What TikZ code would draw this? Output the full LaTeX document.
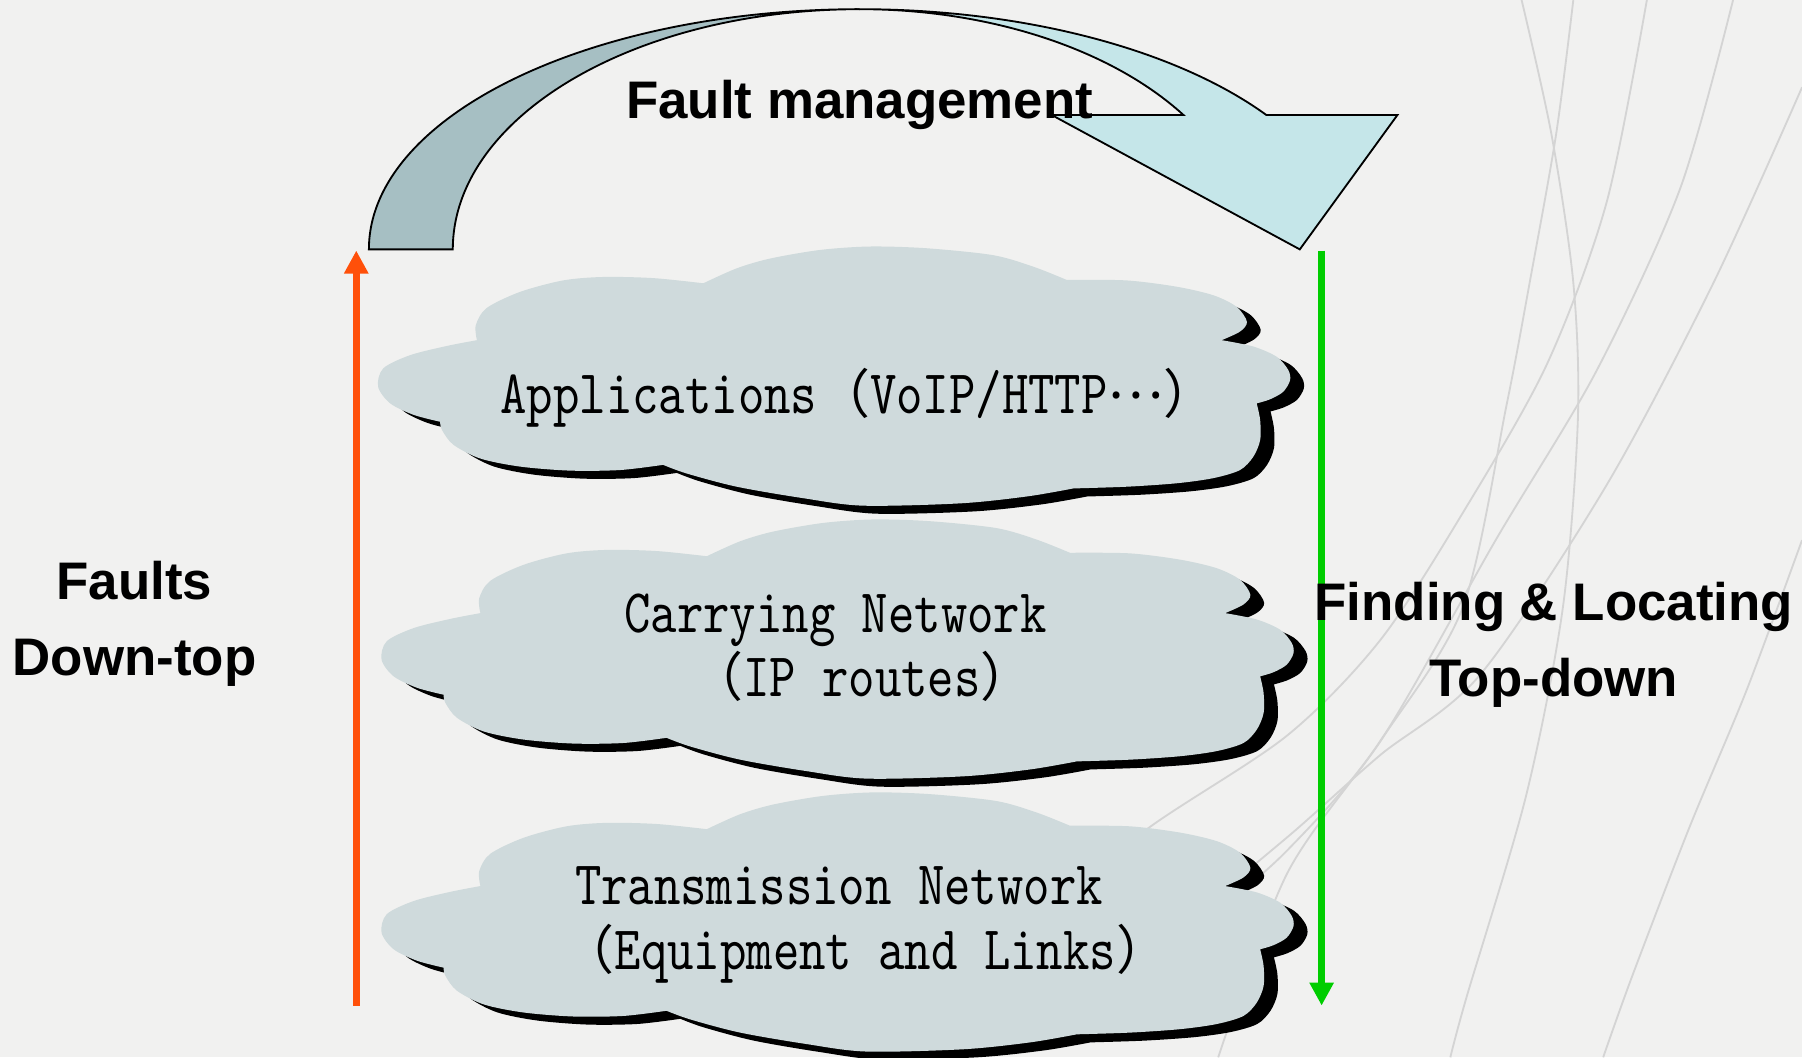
\documentclass[tikz,border=0pt]{standalone}
\usepackage{fontspec}
\setmainfont{Liberation Sans}
\newfontfamily\cloudfont{lmmono10-regular.otf}[FakeStretch=0.81]
\newfontfamily\cjkfont{Noto Sans CJK SC}
\usetikzlibrary{arrows.meta}

\definecolor{paper}{RGB}{241,241,240}
\definecolor{streak}{RGB}{212,212,212}
\definecolor{bandback}{RGB}{166,191,195}
\definecolor{bandfront}{RGB}{197,230,233}
\definecolor{cloudfill}{RGB}{207,218,220}
\definecolor{upcol}{RGB}{255,80,10}
\definecolor{downcol}{RGB}{0,205,0}

% full-width punctuation
\newcommand\fw[1]{{\cjkfont\fontsize{46}{56}\selectfont #1}}
% centred ellipsis
\newcommand\midell{\raisebox{13pt}{\fw{…}}}

% outline of one cloud, centred on the origin
\newcommand\cloudoutline{(-311,32)
  -- plot[smooth] coordinates {(-311,32) (-312,45) (-302.5,60) (-273.5,74) (-236,84) (-201,87) (-157.5,86) (-114,81.5)}
  -- plot[smooth] coordinates {(-114,81.5) (-85,94.5) (-56,103) (-12.5,110.5) (31,113.5) (80,112) (138,106) (173,96) (202,84.5)}
  -- plot[smooth] coordinates {(202,84.5) (254,84) (298,78.5) (330,71) (350,61) (359,48) (353,39.5) (337,32)}
  -- plot[smooth] coordinates {(337,32) (364.5,26.5) (385,17.5) (395,6) (396.5,-3) (390.5,-13) (379,-19.5) (367.5,-23)}
  -- plot[smooth] coordinates {(367.5,-23) (370.5,-37.5) (370.5,-55) (364.5,-69.5) (353,-81) (330,-88) (298,-92.5) (254.5,-95.5) (208,-97)}
  -- plot[smooth] coordinates {(208,-97) (167.5,-104) (109.5,-110) (25,-112) (-27,-105.5) (-85,-95.5) (-128.5,-84) (-149,-76.5)}
  -- plot[smooth] coordinates {(-149,-76.5) (-186.5,-81) (-230,-81.5) (-273.5,-78) (-308,-71) (-331.5,-59) (-341.5,-46) (-343,-39)}
  -- plot[smooth] coordinates {(-343,-39) (-366,-33) (-386.5,-23) (-397,-8.5) (-392.5,7.5) (-369,19) (-337,27) (-311,32)}
  -- cycle}

\tikzset{
  streakline/.style = {draw=streak, line width=1.6pt},
  bandline/.style   = {draw=black, line width=1.6pt, line join=miter},
  cloudpic/.pic = {
    \fill[black, shift={(12,-7)}] \cloudoutline;
    \fill[cloudfill] \cloudoutline;
  },
  cloudtext/.style  = {font=\cloudfont\fontsize{54}{56}\selectfont, inner sep=0pt},
  sidelabel/.style  = {font=\fontsize{46}{66}\selectfont\bfseries, inner sep=0pt},
  uparrow/.style    = {draw=upcol, line width=6.5pt, -{Triangle[length=20pt,width=20pt]}},
  downarrow/.style  = {draw=downcol, line width=6.5pt, -{Triangle[length=20pt,width=20pt]}},
}

\begin{document}
\begin{tikzpicture}[x=1pt,y=1pt]
\useasboundingbox (0,0) rectangle (1568,-920);
\fill[paper] (0,0) rectangle (1568,-920);

% faint streaks of the paper (they run on behind the clouds)
\draw[streakline] plot[smooth] coordinates {(1324,0) (1350,-117) (1369,-246) (1373,-364) (1360,-528) (1328,-692) (1276,-868) (1262,-920)};
\draw[streakline] plot[smooth] coordinates {(1369,0) (1354,-117) (1331,-246) (1311,-352) (1273,-528) (1201,-645) (1120,-760) (1060,-920)};
\draw[streakline] plot[smooth] coordinates {(1433,0) (1398,-176) (1346,-317) (1273,-446) (1201,-557) (1120,-640) (1000,-720) (900,-800)};
\draw[streakline] plot[smooth] coordinates {(1508,0) (1462,-164) (1389,-323) (1302,-469) (1201,-645) (1120,-740) (1050,-800) (950,-880)};
\draw[streakline] plot[smooth] coordinates {(1568,-76) (1491,-246) (1398,-422) (1288,-587) (1201,-657) (1130,-720) (1060,-780) (980,-860)};
\draw[streakline] plot[smooth] coordinates {(1568,-470) (1520,-600) (1470,-720) (1420,-850) (1395,-920)};

% curved fault-management arrow
\path[fill=bandback, bandline] (321,-217)
  arc[start angle=180, end angle=90, x radius=427, y radius=209]
  arc[start angle=90, end angle=180, x radius=354, y radius=209] -- cycle;
\path[fill=bandfront, bandline] (748,-8)
  arc[start angle=90, end angle=34.04, x radius=427, y radius=209]
  -- (1216,-100) -- (1131,-217) -- (915,-100) -- (1029.7,-100)
  arc[start angle=34.04, end angle=90, x radius=340, y radius=209] -- cycle;
\node[sidelabel, anchor=base] (fm) at (748,-103) {Fault management};

% the three layers
\pic at (726,-328) {cloudpic};
\pic at (729,-565.5) {cloudpic};
\pic at (729,-803) {cloudpic};

\node[cloudtext, anchor=base] (app) at (747,-360)
  {Applications\fw{（}VoIP/HTTP\midell\fw{）}};
\node[cloudtext, anchor=base] (carry) at (727,-550)
  {\begin{tabular}[t]{@{}c@{}}Carrying Network\\\hspace*{46pt}\fw{（}IP routes\fw{）}\end{tabular}};
\node[cloudtext, anchor=base] (trans) at (730,-787)
  {\begin{tabular}[t]{@{}c@{}}Transmission Network\\\hspace*{46pt}\fw{（}Equipment and Links\fw{）}\end{tabular}};

% direction arrows
\coordinate (upfrom) at (310,-875);
\coordinate (upto) at (310,-218);
\coordinate (downfrom) at (1150,-218);
\coordinate (downto) at (1150,-875);
\draw[uparrow] (upfrom) -- (upto);
\draw[downarrow] (downfrom) -- (downto);

\node[sidelabel, anchor=base] (faults) at (117,-522)
  {\begin{tabular}[t]{@{}c@{}}Faults\\Down-top\end{tabular}};
\node[sidelabel, anchor=base] (finding) at (1352,-540)
  {\begin{tabular}[t]{@{}c@{}}Finding \& Locating\\Top-down\end{tabular}};
\end{tikzpicture}
\end{document}
